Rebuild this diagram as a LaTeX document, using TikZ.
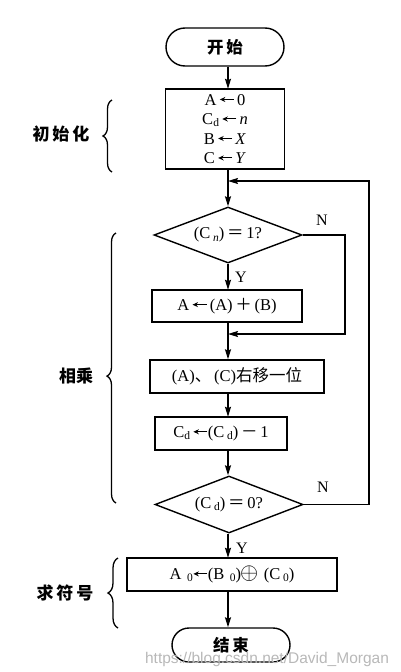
\documentclass[tikz,border=0pt]{standalone}
\usepackage{fontspec}
\setmainfont{Liberation Serif}
\newfontfamily\cjk{Noto Sans CJK SC}
\newfontfamily\wmfont{Liberation Sans}
\usetikzlibrary{shapes.geometric,arrows.meta,decorations.pathreplacing}
\newcommand\la{\tikz[baseline=-0.75ex]\draw[line width=1pt,-{Stealth[length=5.5pt,width=5pt]}] (14pt,0pt) -- (0pt,0pt);}
\newcommand\sbs[1]{\raisebox{-0.3ex}{\fontsize{11.5}{11.5}\selectfont #1}}
\begin{document}
\begin{tikzpicture}[x=1pt,y=-1pt,line width=1.4pt,
  box/.style={draw,rectangle,inner sep=0pt,align=center,font=\fontsize{16.5}{19.5}\selectfont},
  term/.style={draw,rectangle,inner sep=0pt,font=\cjk\bfseries\fontsize{16.5}{16.5}\selectfont},
  dec/.style={draw,diamond,aspect=2.6,inner sep=0pt,font=\fontsize{16.5}{16.5}\selectfont},
  arr/.style={-{Stealth[length=10pt,width=6pt,inset=1.5pt]}},
  lab/.style={font=\cjk\bfseries\fontsize{17}{17}\selectfont},
  yn/.style={font=\fontsize{16}{16}\selectfont},
  brc/.style={decorate,line width=1.3pt}]
\useasboundingbox (0,0) rectangle (400,672);
\coordinate (sp) at (228,0);
\coordinate (r1) at (345,0);
\coordinate (r2) at (369,0);
\coordinate (m1) at (228,181);
\coordinate (m2) at (228,334);

\node[term,rounded corners=19pt,minimum width=118pt,minimum height=38pt] (start) at (225,47) {开\,始};
\node[box,minimum width=119pt,minimum height=80pt] (init) at (225,129)
  {A\,\la\,0\\C\sbs{d}\,\la\,\textit{n}\\B\,\la\,\textit{X}\\C\,\la\,\textit{Y}};
\node[dec,minimum width=148pt,minimum height=56pt] (d1) at (228,235)
  {(C\,\sbs{\textit{n}})\,{\cjk ＝}\,1?};
\node[box,minimum width=150pt,minimum height=32pt] (aab) at (227,306)
  {A\,\la\,(A)\,{\cjk ＋}\,(B)};
\node[box,minimum width=174pt,minimum height=33pt] (shift) at (237,376.5)
  {(A){\cjk 、}\,(C){\cjk 右移一位}};
\node[box,minimum width=132pt,minimum height=33pt] (cd) at (221,433.5)
  {C\sbs{d}\,\la(C\,\sbs{d})\,{\cjk －}\,1};
\node[dec,minimum width=148pt,minimum height=57pt] (d2) at (229,504.5)
  {(C\,\sbs{d})\,{\cjk ＝}\,0?};
\node[box,minimum width=210pt,minimum height=33pt] (sign) at (232,574.5)
  {A\,\,\sbs{0}\la(B\,\,\sbs{0})\kern-1pt\scalebox{1.35}{$\oplus$}\,\,(C\,\sbs{0})};
\node[term,rounded corners=17pt,minimum width=118pt,minimum height=34pt] (fin) at (231,645) {结\,束};

\draw[arr] (start.south -| sp) -- (init.north -| sp);
\draw[arr] (init.south -| sp) -- (d1.north);
\draw[arr] (d1.south) -- (aab.north -| sp);
\draw[arr] (aab.south -| sp) -- (shift.north -| sp);
\draw[arr] (shift.south -| sp) -- (cd.north -| sp);
\draw[arr] (cd.south -| sp) -- (d2.north -| sp);
\draw[arr] (d2.south -| sp) -- (sign.north -| sp);
\draw[arr] (sign.south -| sp) -- (fin.north -| sp);

\draw[arr] (d1.east) -- (d1.east -| r1) -- (r1 |- m2) -- (m2);
\draw[arr] (d2.east) -- (d2.east -| r2) -- (r2 |- m1) -- (m1);

\node[yn] (n1) at (322,220) {N};
\node[yn] (n2) at (323,487) {N};
\node[yn,anchor=west] (y1) at (231,277) {Y};
\node[yn,anchor=west] (y2) at (232,548) {Y};

\draw[brc,decoration={brace,amplitude=9pt}] (112,172) -- (112,100);
\draw[brc,decoration={brace,amplitude=9pt,aspect=0.47}] (116,503) -- (116,233);
\draw[brc,decoration={brace,amplitude=10pt}] (118,628) -- (118,558);

\node[lab] (l1) at (61,134) {初\,始\,化};
\node[lab] (l2) at (76,376) {相乘};
\node[lab] (l3) at (65,593) {求\,符\,号};

\node[font=\wmfont\fontsize{15.5}{15.5}\selectfont,text=black!28] (wm) at (267,659) {https://blog.csdn.net/David\_Morgan};
\end{tikzpicture}
\end{document}
